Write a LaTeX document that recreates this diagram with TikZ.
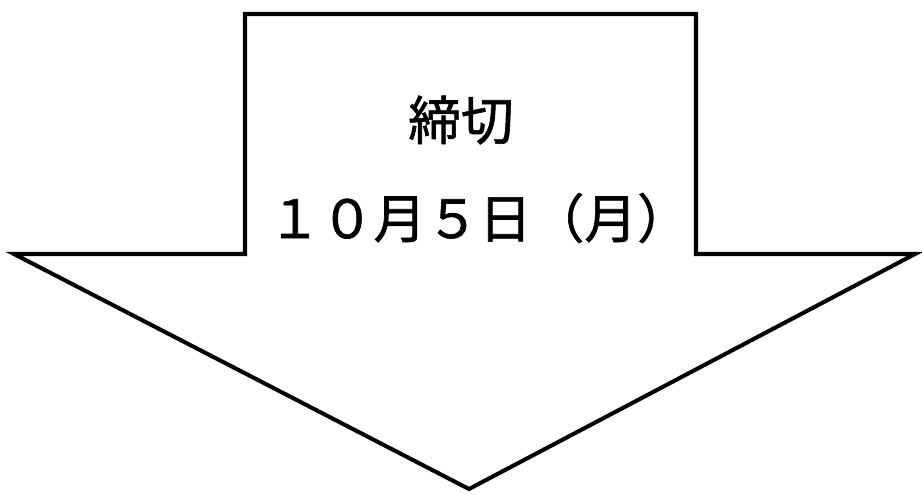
\documentclass[tikz,border=0pt]{standalone}
\usepackage{fontspec}
\usepackage{tikz}
\newfontfamily\jpfont{Noto Sans CJK JP}[FakeBold=1.2]
\tikzset{
  font={\jpfont\fontsize{30pt}{36pt}\selectfont}}

\begin{document}
\begin{tikzpicture}[x=0.2mm,y=0.2mm]
\tikzstyle{every node}+=[inner sep=0pt]
\useasboundingbox (0,0) rectangle (922,-494);
\draw [black, line width=2.3pt] (245,-14) -- (696,-14) -- (696,-254) -- (915,-254) -- (469,-489) -- (14,-254) -- (245,-254) -- cycle;
\node (deadline) at (461,-120) {締切};
\node (date) at (479,-218) {１０月５日（月）};
\end{tikzpicture}
\end{document}
